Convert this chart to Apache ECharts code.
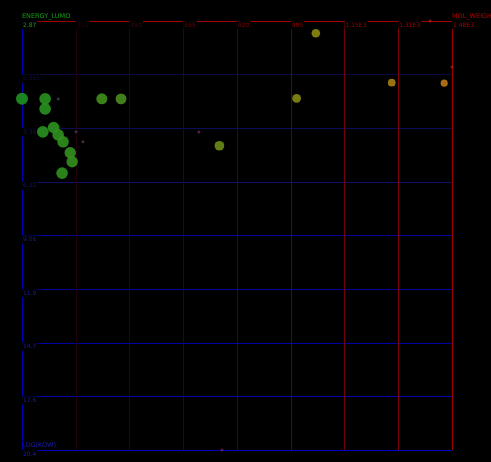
<!DOCTYPE html>
<html>
<head>
<meta charset="utf-8">
<script src="https://cdn.jsdelivr.net/npm/echarts@6/dist/echarts.min.js"></script>
<style>
	html, body {
	margin: 0;
	padding: 0;
	background: #000;
	}
	#chartDiv {
	width: 491px;
	height: 462px;
	}
</style>
</head>
<body>
<div id="chartDiv"></div>
<script>
// MOL_WEIGHT axis ticks (top)
var xTicks = [160, 325, 490, 655, 820, 985, 1150, 1315, 1480];
var xTickLabels = ['160', '325', '490', '655', '820', '985', '1.15E3', '1.31E3', '1.48E3'];
// LOG(KOW) axis ticks (left, growing downward)
var yTicks = [-2.28, 0.555, 3.39, 6.225, 9.06, 11.895, 14.73, 17.565, 20.4];
var yTickLabels = ['-2.28', '0.555', '3.39', '6.22', '9.06', '11.9', '14.7', '17.6', '20.4'];
// ENERGY_LUMO axis
var lumoMin = -7;
var lumoMax = 2.87;

// big points : MOL_WEIGHT / ENERGY_LUMO
var molWeight = [160, 231, 231, 405, 464, 224, 257, 271, 286, 308, 314, 283, 766, 1003, 1062, 1295, 1456];
var energyLumo = [1.08, 1.08, 0.85, 1.08, 1.08, 0.32, 0.42, 0.25, 0.09, -0.16, -0.37, -0.63, 0.00, 1.09, 2.59, 1.45, 1.44];

// small points : MOL_WEIGHT / LOG(KOW)
var kowWeight = [271, 326, 347, 703, 774, 1413, 1480];
var logKow = [1.84, 3.57, 4.10, 3.59, 20.4, -2.28, 0.15];

var xSplitColors = ['rgba(0,0,0,0)', '#22000a', '#2e000a', '#3c000a', '#4e000a', '#64000a', '#740008', '#840006', '#980000'];
var ySplitColors = ['rgba(0,0,0,0)', '#0a0a3c', '#0e0e58', '#10106a', '#00009a', '#00009e', '#0000a4', '#0000ac', '#0000c4'];
var xLabelColors = ['#300000', '#2e0008', '#48000c', '#60000c', '#760008', '#880004', '#960000', '#a40000', '#b00000'];
var yLabelColors = ['#000040', '#0c0c48', '#12125e', '#16166e', '#1a1a98', '#1a1aa0', '#1a1aa6', '#1a1aac', '#1a1ab4'];

var fontName = 'DejaVu Sans';

var bigData = [];
for (var i = 0; i < molWeight.length; i++) {
	bigData.push([molWeight[i], energyLumo[i]]);
}
var smallData = [];
for (var j = 0; j < kowWeight.length; j++) {
	smallData.push([kowWeight[j], logKow[j]]);
}

function nearestIndex(arr, v) {
	var best = 0;
	for (var k = 1; k < arr.length; k++) {
		if (Math.abs(arr[k] - v) < Math.abs(arr[best] - v)) best = k;
	}
	return best;
}

// hidden axis that only draws one grid line, so each line gets its own colour
function lineAxis(pos, min, max, inverse, value, color) {
	return {
		type: 'value',
		position: pos,
		offset: 0,
		z: 0,
		inverse: inverse,
		min: min,
		max: max,
		axisLine: { show: false, onZero: false },
		axisTick: { show: false, customValues: [value] },
		axisLabel: { show: false },
		splitLine: { show: true, lineStyle: { color: color, width: 1 } }
	};
}

var xAxes = [
{
	type: 'value',
	position: 'top',
	z: 1,
	min: xTicks[0],
	max: xTicks[xTicks.length - 1],
	name: 'MOL_WEIGHT',
	nameLocation: 'end',
	nameGap: 0,
	nameTextStyle: {
		color: '#b00000',
		fontSize: 6.5,
		fontFamily: fontName,
		align: 'left',
		verticalAlign: 'bottom',
		padding: [0, 0, 1, 0]
	},
	axisLine: { show: true, onZero: false, lineStyle: { color: '#a00000', width: 1 } },
	axisTick: { show: false },
	axisLabel: {
		inside: true,
		margin: 0,
		customValues: xTicks.slice(1),
		fontSize: 6,
		fontFamily: fontName,
		align: 'left',
		verticalAlign: 'top',
		backgroundColor: '#000',
		padding: [1, 1, 1, 1],
		color: function (v) { return xLabelColors[nearestIndex(xTicks, v)]; },
		formatter: function (v) { return xTickLabels[nearestIndex(xTicks, v)]; }
	},
	splitLine: { show: false }
}
];

var yAxes = [
{
	type: 'value',
	position: 'left',
	z: 1,
	inverse: true,
	min: yTicks[0],
	max: yTicks[yTicks.length - 1],
	name: 'LOG(KOW)',
	nameLocation: 'end',
	nameGap: 0,
	nameTextStyle: {
		color: '#1a1ab4',
		fontSize: 6.5,
		fontFamily: fontName,
		align: 'left',
		verticalAlign: 'bottom',
		padding: [0, 0, 1, 0]
	},
	axisLine: { show: true, onZero: false, lineStyle: { color: '#0000b0', width: 1 } },
	axisTick: { show: false },
	axisLabel: {
		inside: true,
		margin: 0,
		customValues: yTicks.slice(1),
		fontSize: 6,
		fontFamily: fontName,
		align: 'left',
		verticalAlign: 'top',
		backgroundColor: '#000',
		padding: [1, 1, 1, 1],
		color: function (v) { return yLabelColors[nearestIndex(yTicks, v)]; },
		formatter: function (v) { return yTickLabels[nearestIndex(yTicks, v)]; }
	},
	splitLine: { show: false }
},
{
	type: 'value',
	position: 'left',
	offset: 0,
	z: 1,
	min: lumoMin,
	max: lumoMax,
	name: 'ENERGY_LUMO',
	nameLocation: 'end',
	nameGap: 0,
	nameTextStyle: {
		color: '#1a9a1a',
		fontSize: 6.5,
		fontFamily: fontName,
		align: 'left',
		verticalAlign: 'bottom',
		padding: [0, 0, 1, 0]
	},
	axisLine: { show: false, onZero: false },
	axisTick: { show: false },
	splitLine: { show: false },
	axisLabel: {
		inside: true,
		margin: 0,
		customValues: [lumoMax],
		fontSize: 6,
		fontFamily: fontName,
		align: 'left',
		verticalAlign: 'top',
		backgroundColor: '#000',
		padding: [1, 1, 1, 1],
		color: '#1a9a1a',
		formatter: function (v) { return String(v); }
	}
}
];

for (var a = 1; a < xTicks.length; a++) {
	xAxes.push(lineAxis('top', xTicks[0], xTicks[xTicks.length - 1], false, xTicks[a], xSplitColors[a]));
}
for (var b = 1; b < yTicks.length; b++) {
	yAxes.push(lineAxis('left', yTicks[0], yTicks[yTicks.length - 1], true, yTicks[b], ySplitColors[b]));
}

var myChart = echarts.init(document.getElementById('chartDiv'));
var option = {
	backgroundColor: '#000',
	animation: false,
	grid: {
		left: 22,
		top: 21,
		right: 39,
		bottom: 12,
		outerBoundsMode: 'none',
		containLabel: false
	},
	xAxis: xAxes,
	yAxis: yAxes,
	visualMap: [
	{
		show: false,
		seriesIndex: 0,
		dimension: 0,
		min: xTicks[0],
		max: xTicks[xTicks.length - 1],
		inRange: {
			color: ['#1f921f', '#5a8c1c', '#8a8a12', '#c07818'],
			symbolSize: [12, 7]
		}
	},
	{
		show: false,
		seriesIndex: 1,
		dimension: 0,
		min: xTicks[0],
		max: xTicks[xTicks.length - 1],
		inRange: {
			color: ['#3c3c3c', '#5a1f5a', '#6a1f60', '#b01010']
		}
	}
	],
	series: [
	{
		name: 'ENERGY_LUMO',
		type: 'scatter',
		xAxisIndex: 0,
		yAxisIndex: 1,
		z: 3,
		data: bigData,
		itemStyle: { opacity: 0.9 }
	},
	{
		name: 'LOG(KOW)',
		type: 'scatter',
		xAxisIndex: 0,
		yAxisIndex: 0,
		z: 2,
		symbolSize: 3,
		data: smallData,
		itemStyle: { opacity: 0.9 }
	}
	]
};
myChart.setOption(option);
</script>
</body>
</html>
